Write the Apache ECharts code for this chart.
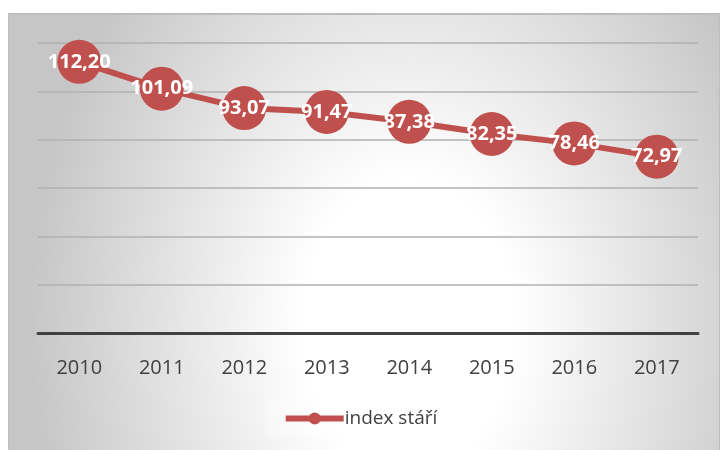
<!DOCTYPE html>
<html><head><meta charset="utf-8">
<script src="https://cdn.jsdelivr.net/npm/echarts@6/dist/echarts.min.js"></script>
<style>
html,body{margin:0;padding:0;background:#fff}
#wrap{position:relative;width:720px;height:450px}
#bg{position:absolute;left:8px;top:13px;width:710px;height:435px;border:1px solid #bdbdbd;border-top:2px solid #bdbdbd;
  background:radial-gradient(ellipse 380px 520px at 400px 310px,#ffffff 0%,#ffffff 28%,#c6c6c6 100%);}
#c{position:absolute;left:0;top:0;width:720px;height:450px}
</style>
</head><body><div id="wrap"><div id="bg"></div><div id="c"></div></div>
<script>
var categories = ['2010','2011','2012','2013','2014','2015','2016','2017'];
var values = [112.20, 101.09, 93.07, 91.47, 87.38, 82.35, 78.46, 72.97];
var seriesName = 'index stáří';

var chart = echarts.init(document.getElementById('c'));
chart.setOption({
  animation: false,
  backgroundColor: 'transparent',
  grid: {left: 38, right: 22, top: 43, bottom: 117},
  legend: {
    top: 400, left: 'center',
    data: [seriesName],
    itemWidth: 58, itemHeight: 15, itemGap: 4,
    lineStyle: {width: 6},
    textStyle: {fontFamily: 'Open Sans', fontSize: 19, color: '#404040', padding: [0, 0, 0, -4]},
    backgroundColor: 'rgba(255,255,255,0.3)', padding: [9, 18]
  },
  xAxis: {
    type: 'category', data: categories, boundaryGap: true,
    axisLine: {lineStyle: {color: '#404040', width: 3}},
    axisTick: {show: false},
    axisLabel: {fontFamily: 'Open Sans', fontSize: 20, color: '#404040', margin: 25}
  },
  yAxis: {
    type: 'value', min: 0, max: 120, interval: 20,
    axisLabel: {show: false}, axisLine: {show: false}, axisTick: {show: false},
    splitLine: {lineStyle: {color: '#b0b0b0', width: 1.5}}
  },
  series: [{
    name: seriesName, type: 'line', data: values,
    symbol: 'circle', symbolSize: 44,
    lineStyle: {color: '#c0504d', width: 6},
    itemStyle: {color: '#c0504d'},
    label: {
      show: true, position: 'inside',
      fontFamily: 'Open Sans', fontWeight: 'bold', fontSize: 20, color: '#ffffff',
      formatter: function (p) { return p.value.toFixed(2).replace('.', ','); }
    }
  }]
});
</script></body></html>
